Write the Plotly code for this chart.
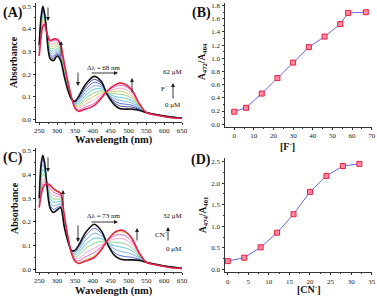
import plotly.graph_objects as go

W, H = 377, 296

# ---------------- data ----------------
wavelength = [250, 255, 260, 265, 270, 280, 290, 300, 310, 320, 330, 340, 350, 360,
              380, 404, 425, 440, 460, 475, 490, 510, 530, 550, 580, 615, 650]

# Panel A: F- titration (0 -> 62 uM)
spec_A = [
    [.33, .45, .50, .47, .40, .27, .26, .28, .26, .19, .13, .09, .08, .10, .155, .19, .165, .11, .065, .048, .045, .045, .04, .03, .02, .011, .005],
    [.325, .441, .491, .465, .399, .278, .270, .288, .267, .196, .134, .091, .077, .094, .144, .177, .158, .112, .074, .059, .056, .054, .043, .03, .02, .011, .005],
    [.32, .432, .482, .46, .398, .286, .279, .295, .274, .202, .138, .092, .074, .087, .133, .164, .151, .113, .082, .070, .067, .062, .046, .03, .02, .010, .005],
    [.314, .421, .471, .454, .397, .296, .290, .304, .282, .209, .143, .093, .070, .079, .120, .148, .143, .115, .092, .084, .080, .072, .050, .03, .019, .010, .004],
    [.308, .410, .460, .448, .396, .305, .302, .313, .291, .216, .148, .094, .067, .071, .107, .133, .134, .117, .102, .097, .093, .082, .053, .03, .019, .010, .004],
    [.302, .400, .450, .442, .394, .315, .313, .322, .299, .224, .152, .096, .063, .064, .093, .117, .126, .118, .113, .111, .107, .093, .057, .03, .019, .009, .004],
    [.296, .389, .439, .436, .393, .324, .325, .331, .308, .231, .157, .097, .060, .056, .080, .102, .117, .120, .123, .124, .120, .103, .060, .03, .019, .009, .004],
    [.29, .378, .428, .43, .392, .334, .336, .34, .316, .238, .162, .098, .056, .048, .067, .086, .109, .122, .133, .138, .133, .113, .064, .03, .018, .009, .003],
    [.284, .367, .417, .424, .391, .344, .347, .349, .324, .245, .167, .099, .052, .040, .054, .070, .101, .124, .143, .151, .146, .123, .068, .03, .018, .008, .003],
    [.28, .36, .41, .42, .39, .35, .355, .355, .33, .25, .17, .10, .05, .035, .045, .06, .095, .125, .15, .16, .155, .13, .07, .03, .018, .008, .003],
]
colors_A = ["#111111", "#3b2f8f", "#3c5fd6", "#6fa3e6", "#3fc6c9", "#7fd07f",
            "#c9c94a", "#f39ac6", "#e050c0", "#e5224a"]

# Panel C: CN- titration (0 -> 32 uM)
spec_C = [
    [.30, .44, .48, .45, .38, .26, .24, .25, .26, .18, .12, .08, .08, .10, .155, .19, .16, .11, .06, .045, .04, .04, .038, .03, .02, .011, .005],
    [.295, .424, .463, .439, .378, .271, .252, .260, .267, .186, .122, .079, .075, .091, .141, .173, .151, .111, .071, .059, .054, .051, .042, .03, .02, .011, .005],
    [.289, .405, .442, .424, .375, .286, .267, .272, .276, .194, .125, .077, .068, .080, .123, .152, .140, .113, .086, .077, .072, .064, .047, .03, .019, .010, .004],
    [.283, .385, .421, .410, .372, .300, .282, .284, .285, .201, .128, .076, .061, .069, .105, .131, .129, .114, .100, .095, .090, .078, .051, .03, .019, .010, .004],
    [.277, .366, .400, .396, .369, .314, .297, .296, .294, .209, .131, .074, .054, .057, .087, .110, .117, .116, .114, .113, .108, .091, .056, .03, .019, .009, .004],
    [.271, .346, .379, .382, .366, .328, .312, .308, .303, .216, .134, .073, .048, .046, .069, .089, .106, .117, .128, .131, .126, .105, .061, .03, .019, .009, .004],
    [.266, .330, .361, .369, .363, .341, .325, .318, .311, .223, .137, .072, .042, .036, .053, .071, .096, .119, .141, .147, .142, .117, .065, .03, .018, .008, .003],
    [.262, .317, .347, .360, .361, .350, .335, .326, .317, .228, .139, .071, .037, .029, .041, .057, .089, .120, .150, .159, .154, .126, .068, .03, .018, .008, .003],
    [.26, .31, .34, .355, .36, .355, .34, .33, .32, .23, .14, .07, .035, .025, .035, .05, .085, .12, .155, .165, .16, .13, .07, .03, .018, .008, .003],
]
colors_C = ["#111111", "#3c5fd6", "#6fa3e6", "#3fc6c9", "#7fd07f",
            "#f39ac6", "#e050c0", "#c9c94a", "#e5224a"]

# Panel B: ratio vs [F-]
conc_F = [0, 6, 14, 22, 30, 38, 46, 54, 58, 67]
ratio_F = [0.19, 0.25, 0.465, 0.70, 0.935, 1.17, 1.33, 1.52, 1.69, 1.70]

# Panel D: ratio vs [CN-]
conc_CN = [0, 4, 8, 12, 16, 20, 24, 28, 32]
ratio_CN = [0.19, 0.27, 0.51, 0.85, 1.28, 1.80, 2.17, 2.40, 2.45]

# ---------------- figure ----------------
def px(x):
    return x / W

def py(y):
    return 1 - y / H

SERIF = "Liberation Serif"
fig = go.Figure()

def add_spectra(spec, colors, xa, ya):
    n = len(spec)
    order = list(range(1, n - 1)) + [0, n - 1]
    for i in order:
        wide = i in (0, n - 1)
        fig.add_trace(go.Scatter(
            x=wavelength, y=spec[i], mode="lines",
            line=dict(color=colors[i], width=1.6 if wide else 0.9, shape="spline", smoothing=0.8),
            xaxis=xa, yaxis=ya, showlegend=False, hoverinfo="skip"))

add_spectra(spec_A, colors_A, "x", "y")
add_spectra(spec_C, colors_C, "x3", "y3")

for xs, ys, xa, ya in [(conc_F, ratio_F, "x2", "y2"), (conc_CN, ratio_CN, "x4", "y4")]:
    fig.add_trace(go.Scatter(
        x=xs, y=ys, mode="lines+markers",
        line=dict(color="#6868e8", width=1),
        marker=dict(symbol="square", size=5, color="#ff8aa8", line=dict(color="#e8203c", width=1)),
        xaxis=xa, yaxis=ya, showlegend=False, hoverinfo="skip"))

tickfont = dict(family=SERIF, size=7, color="#222")
common = dict(showline=True, linecolor="#333", linewidth=1, ticks="outside", ticklen=2.5,
              tickwidth=1, tickcolor="#333", showgrid=False, zeroline=False,
              tickfont=tickfont, mirror=False, automargin=False)

def ax(domain, rng, dtick, minor_dtick, anchor, fmt=None):
    d = dict(common)
    d.update(domain=domain, range=rng, dtick=dtick, tick0=0, anchor=anchor,
             minor=dict(ticks="outside", ticklen=1.5, dtick=minor_dtick, tickcolor="#333", tick0=0))
    if fmt:
        d["tickformat"] = fmt
    return d

xA_dom = [px(36), px(182)]
xB_dom = [px(225), px(371.7)]

fig.update_layout(
    width=W, height=H, margin=dict(l=0, r=0, t=0, b=0, pad=0),
    paper_bgcolor="white", plot_bgcolor="white",
    xaxis=ax(xA_dom, [241, 650], 50, 25, "y"),
    yaxis=ax([py(121.5), py(3)], [-0.01, 0.515], 0.1, 0.05, "x", ".1f"),
    xaxis2=ax(xB_dom, [-4.7, 70], 10, 5, "y2"),
    yaxis2=ax([py(126.5), py(3)], [-0.035, 1.84], 0.2, 0.1, "x2", ".1f"),
    xaxis3=ax(xA_dom, [241, 650], 50, 25, "y3"),
    yaxis3=ax([py(271.5), py(148)], [-0.009, 0.511], 0.1, 0.05, "x3", ".1f"),
    xaxis4=ax(xB_dom, [-0.66, 35], 5, 2.5, "y4"),
    yaxis4=ax([py(271.7), py(158)], [-0.056, 2.586], 0.5, 0.25, "x4", ".1f"),
)

ann = []

def text(x, y, s, size=9, bold=True, angle=0, xanchor="center"):
    ann.append(dict(x=px(x), y=py(y), xref="paper", yref="paper",
                    text=("<b>" + s + "</b>") if bold else s, showarrow=False,
                    textangle=angle, xanchor=xanchor, yanchor="middle",
                    font=dict(family=SERIF, size=size, color="#111")))

def arrow(x1, y1, x2, y2):
    # tail (x1,y1) -> head (x2,y2) in pixels
    ann.append(dict(x=px(x2), y=py(y2), xref="paper", yref="paper", ax=x1 - x2, ay=y1 - y2,
                    axref="pixel", ayref="pixel", text="", showarrow=True,
                    arrowhead=2, arrowsize=0.9, arrowwidth=0.9, arrowcolor="#222", standoff=0))

# panel labels
text(13, 13, "(A)", size=14)
text(201, 13, "(B)", size=14)
text(13, 158, "(C)", size=14)
text(201, 160, "(D)", size=14)

# axis titles
text(114, 139.5, "Wavelength (nm)", size=10.5)
text(114, 291, "Wavelength (nm)", size=10.5)
text(14, 62, "Absorbance", size=10, angle=-90)
text(14, 208, "Absorbance", size=10, angle=-90)
text(203, 62, "A<sub>472</sub>/A<sub>404</sub>", size=9.5, angle=-90)
text(203, 215, "A<sub>474</sub>/A<sub>401</sub>", size=9.5, angle=-90)
text(287, 146, "[F<sup>-</sup>]", size=10)
text(308, 289, "[CN<sup>-</sup>]", size=10)

# panel A annotations
arrow(48, 6, 48, 21)
arrow(61, 58, 61, 41)
arrow(78, 71, 78, 86)
text(104, 68, "Δλ = 68 nm", size=7, bold=False)
arrow(90, 73, 118, 73)
arrow(132, 94, 132, 78)
text(173, 72, "62 μM", size=7, bold=False)
text(164, 88, "F<sup>−</sup>", size=7, bold=False)
arrow(173, 100, 173, 83)
text(173, 105, "0 μM", size=7, bold=False)

# panel C annotations
arrow(48, 156, 48, 172)
arrow(63, 207, 63, 190)
arrow(78, 224, 78, 242)
text(104, 216, "Δλ = 73 nm", size=7, bold=False)
arrow(90, 222, 118, 222)
arrow(137, 242, 137, 228)
text(173, 216, "32 μM", size=7, bold=False)
text(161, 234, "CN<sup>−</sup>", size=7, bold=False)
arrow(168, 242, 168, 227)
text(174, 249, "0 μM", size=7, bold=False)

fig.update_layout(annotations=ann)
fig.write_html("out.html", config={"displayModeBar": False},
               post_script="document.body.style.margin='0';document.body.style.overflow='hidden';")
